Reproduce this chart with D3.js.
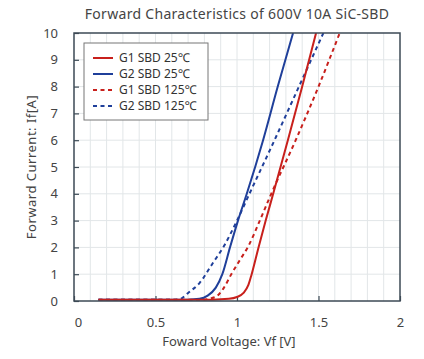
<!DOCTYPE html>
<html>
<head>
<meta charset="utf-8">
<script src="https://cdn.jsdelivr.net/npm/d3@7"></script>
<style>
  body { margin: 0; background: #fff; }
  svg { display: block; font-family: "Noto Sans", "Noto Sans CJK JP", sans-serif; }
</style>
</head>
<body>
<svg id="chart" width="424" height="359"></svg>
<script>
const width = 424;
const height = 359;
const margin = { top: 33, right: 24, bottom: 58, left: 74 };

// readings (Vf in V, If in A)
const g1Vf25 = [0.15, 0.5, 0.85, 0.95, 1.0, 1.04, 1.07, 1.09, 1.132, 1.176, 1.222, 1.312, 1.40, 1.485];
const g1If25 = [0.05, 0.05, 0.05, 0.08, 0.15, 0.3, 0.6, 1.0, 2.0, 3.0, 4.0, 6.0, 8.0, 10.0];
const g2Vf25 = [0.15, 0.5, 0.7, 0.77, 0.82, 0.87, 0.91, 0.957, 1.006, 1.06, 1.16, 1.25, 1.344];
const g2If25 = [0.05, 0.05, 0.05, 0.08, 0.2, 0.5, 1.0, 2.0, 3.0, 4.0, 6.0, 8.0, 10.0];
const g1Vf125 = [0.15, 0.5, 0.78, 0.84, 0.88, 0.92, 0.965, 1.02, 1.07, 1.14, 1.21, 1.36, 1.50, 1.63];
const g1If125 = [0.05, 0.05, 0.05, 0.1, 0.2, 0.5, 1.0, 1.55, 2.05, 3.0, 4.0, 6.0, 8.0, 10.0];
const g2Vf125 = [0.15, 0.5, 0.62, 0.66, 0.70, 0.77, 0.85, 0.92, 1.0, 1.08, 1.23, 1.38, 1.53];
const g2If125 = [0.05, 0.05, 0.05, 0.1, 0.3, 0.67, 1.4, 2.05, 3.0, 4.05, 6.0, 8.0, 10.0];

const seriesNames = ["G1 SBD 25℃", "G2 SBD 25℃", "G1 SBD 125℃", "G2 SBD 125℃"];
const seriesColors = ["#c8201c", "#1f3f9a", "#c8201c", "#1f3f9a"];
const seriesDashed = [false, false, true, true];

const xTicks = [0, 0.5, 1, 1.5, 2];
const yTicks = [0, 1, 2, 3, 4, 5, 6, 7, 8, 9, 10];

const series = [
  g1Vf25.map((v, i) => [v, g1If25[i]]),
  g2Vf25.map((v, i) => [v, g2If25[i]]),
  g1Vf125.map((v, i) => [v, g1If125[i]]),
  g2Vf125.map((v, i) => [v, g2If125[i]])
];

const svg = d3.select("#chart");
const x = d3.scaleLinear().domain([0, 2]).range([margin.left, width - margin.right]);
const y = d3.scaleLinear().domain([0, 10]).range([height - margin.bottom, margin.top]);

// grid
const grid = svg.append("g").attr("stroke", "#e2e6e8").attr("stroke-width", 1);
grid.selectAll(".vg").data(d3.range(1, 20).map(d => d / 10)).join("line")
  .attr("x1", d => x(d)).attr("x2", d => x(d))
  .attr("y1", y(0)).attr("y2", y(10));
grid.selectAll(".hg").data(d3.range(1, 10)).join("line")
  .attr("x1", x(0)).attr("x2", x(2))
  .attr("y1", d => y(d)).attr("y2", d => y(d));

// axes, ticks pointing inward
const xAxis = svg.append("g")
  .attr("transform", `translate(0,${y(0)})`)
  .call(d3.axisBottom(x).tickValues(xTicks).tickSizeInner(-5).tickSizeOuter(0).tickPadding(17)
    .tickFormat(d => d3.format("")(d)));
const yAxis = svg.append("g")
  .attr("transform", `translate(${x(0)},0)`)
  .call(d3.axisLeft(y).tickValues(yTicks).tickSizeInner(-5).tickSizeOuter(0).tickPadding(16));

[xAxis, yAxis].forEach(a => {
  a.select(".domain").remove();
  a.selectAll(".tick line").attr("stroke", "#3d4a55").attr("stroke-width", 1.2);
  a.selectAll(".tick text").attr("fill", "#444").style("font-size", "13px")
    .style("font-family", "\"Noto Sans\", sans-serif");
});
xAxis.selectAll(".tick text").filter(d => d === 0).attr("dx", 4);

// curves
const line = d3.line().x(d => x(d[0])).y(d => y(d[1])).curve(d3.curveMonotoneX);
const order = [3, 2, 1, 0];
svg.append("clipPath").attr("id", "clip").append("rect")
  .attr("x", x(0)).attr("y", y(10)).attr("width", x(2) - x(0)).attr("height", y(0) - y(10));
svg.append("g").attr("clip-path", "url(#clip)")
  .selectAll("path").data(order).join("path")
  .attr("d", i => line(series[i]))
  .attr("fill", "none")
  .attr("stroke", i => seriesColors[i])
  .attr("stroke-width", 2)
  .attr("stroke-dasharray", i => seriesDashed[i] ? "4,3.5" : null);

// frame
svg.append("rect")
  .attr("x", x(0)).attr("y", y(10))
  .attr("width", x(2) - x(0)).attr("height", y(0) - y(10))
  .attr("fill", "none").attr("stroke", "#3d4a55").attr("stroke-width", 1.5);

// legend
const lg = svg.append("g");
lg.append("rect").attr("x", 84).attr("y", 43).attr("width", 124).attr("height", 77)
  .attr("fill", "#fff").attr("stroke", "#777").attr("stroke-width", 1);
const items = lg.selectAll(".item").data(seriesNames).join("g")
  .attr("transform", (d, i) => `translate(0,${58 + i * 16})`);
items.append("line").attr("x1", 93).attr("x2", 113)
  .attr("stroke", (d, i) => seriesColors[i]).attr("stroke-width", 2)
  .attr("stroke-dasharray", (d, i) => seriesDashed[i] ? "4,3.5" : null);
items.append("text").attr("x", 119).attr("dy", "0.35em")
  .attr("fill", "#333").style("font-size", "12px").text(d => d);

// title and labels
svg.append("text").attr("x", 237).attr("y", 19).attr("text-anchor", "middle")
  .attr("fill", "#444").style("font-size", "14px").style("letter-spacing", "0.3px")
  .text("Forward Characteristics of 600V 10A SiC-SBD");
svg.append("text").attr("x", 229).attr("y", 346).attr("text-anchor", "middle")
  .attr("fill", "#444").style("font-size", "13px")
  .text("Foward Voltage: Vf [V]");
svg.append("text").attr("transform", `translate(36,${(y(0) + y(10)) / 2}) rotate(-90)`)
  .attr("text-anchor", "middle")
  .attr("fill", "#444").style("font-size", "13px").style("letter-spacing", "0.5px")
  .text("Forward Current: If[A]");
</script>
</body>
</html>
